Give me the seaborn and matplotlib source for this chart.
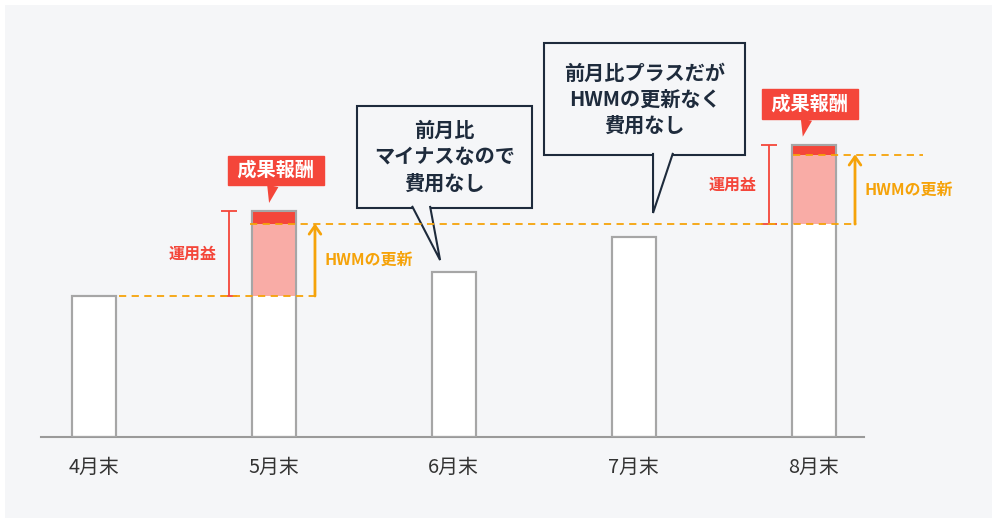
import numpy as np
import pandas as pd
import matplotlib.pyplot as plt
from matplotlib.patches import Rectangle, Polygon
import seaborn as sns

# データ（基準価額とHWM）
months = ['4月末', '5月末', '6月末', '7月末', '8月末']
nav = [100, 160, 117, 142, 207]
fee_idx = [1, 4]                 # 成果報酬が発生した月
hwm_before = [100, 151]          # 更新前のHWM
hwm_after = [151, 200]           # 更新後のHWM

BG = '#f5f6f8'
RED = '#f4463a'
PINK = '#f9aca6'
ORANGE = '#f5a30a'
NAVY = '#1e2b3c'
EDGE = '#a6a6a6'

sns.set_theme(style='white')
plt.rcParams['font.family'] = ['Noto Sans CJK JP', 'DejaVu Sans']

W, H = 997, 529
fig = plt.figure(figsize=(W / 100, H / 100), dpi=100)
fig.patch.set_facecolor('white')
fig.add_artist(Rectangle((5 / W, 11 / H), 987 / W, 513 / H, transform=fig.transFigure,
                         fc=BG, ec='none', zorder=0))
ax = fig.add_axes([41 / W, 92 / H, 823 / W, 432 / H])
ax.set_facecolor('none')

df = pd.DataFrame({'month': months, 'nav': nav})
bw = 0.244
sns.barplot(data=df, x='month', y='nav', color='white', saturation=1, width=bw,
            edgecolor=EDGE, linewidth=1.5, ax=ax, zorder=1)

# 運用益（ピンク）と成果報酬（赤）
for i, lo, hi in zip(fee_idx, hwm_before, hwm_after):
    ax.bar(i, hi - lo, bottom=lo, width=bw, color=PINK, lw=0, zorder=2)
    ax.bar(i, nav[i] - hi, bottom=hi, width=bw, color=RED, lw=0, zorder=2)
ax.bar(range(len(nav)), nav, width=bw, fill=False, edgecolor=EDGE, lw=1.5, zorder=3)

# HWMの破線
dash = dict(color=ORANGE, lw=1.3, ls=(0, (4, 3)), zorder=7)
ax.hlines(hwm_before[0], 0.14, 1.235, **dash)
ax.hlines(hwm_after[0], 0.87, 4.24, **dash)
ax.hlines(hwm_after[1], 3.886, 4.606, clip_on=False, **dash)

# 運用益の範囲とHWM更新の矢印
for i, lo, hi in zip(fee_idx, hwm_before, hwm_after):
    xr = i - 0.25
    ax.errorbar(xr, (lo + nav[i]) / 2, yerr=(nav[i] - lo) / 2, color=RED, lw=1.3,
                capsize=6, capthick=1.3, zorder=6)
    ax.text(xr - 0.2, (lo + nav[i]) / 2, '運用益', color=RED, fontsize=11.5,
            fontweight='bold', ha='center', va='center')
    xa = i + 0.23
    ax.annotate('', xy=(xa, hi + 0.5), xytext=(xa, lo),
                arrowprops=dict(arrowstyle='->,head_length=0.5,head_width=0.35',
                                color=ORANGE, lw=2, shrinkA=0, shrinkB=0), zorder=6)
    ax.text(xa + 0.055, (lo + hi) / 2, 'HWMの更新', color=ORANGE, fontsize=11.5,
            fontweight='bold', ha='left', va='center', clip_on=False)

# 成果報酬ラベル
for i, dx, dy in zip(fee_idx, [0.014, -0.022], [21, 21]):
    ax.annotate(' 成果報酬 ', xy=(i - 0.025 - (0.035 if i == 4 else 0), nav[i] + 6),
                xytext=(i + dx, nav[i] + dy + 8),
                ha='center', va='center', color='white', fontsize=13.8, fontweight='bold',
                bbox=dict(boxstyle='square,pad=0.28', fc=RED, ec=RED),
                arrowprops=dict(arrowstyle='wedge,tail_width=0.6', fc=RED, ec='none',
                                shrinkA=0, shrinkB=0), zorder=8)


# 吹き出し
def callout(x0, x1, y0, y1, tail, text):
    ax.add_patch(Rectangle((x0, y0), x1 - x0, y1 - y0, fc=BG, ec=NAVY, lw=1.5, zorder=6))
    tx0, tx1, tip = tail
    ax.add_patch(Polygon([(tx0, y0 + 1.5), tip, (tx1, y0 + 1.5)], closed=False,
                         fc=BG, ec=NAVY, lw=1.5, zorder=6.5))
    ax.text((x0 + x1) / 2, (y0 + y1) / 2, text, ha='center', va='center', color=NAVY,
            fontsize=14.5, fontweight='bold', linespacing=1.3, zorder=8)


callout(1.464, 2.436, 162.4, 234.8, (1.769, 1.869, (1.925, 125.5)),
        '前月比\nマイナスなので\n費用なし')
callout(2.503, 3.619, 200.0, 279.4, (3.108, 3.219, (3.108, 158.9)),
        '前月比プラスだが\nHWMの更新なく\n費用なし')

ax.set_xlim(-0.292, 4.28)
ax.set_ylim(0, 306.4)
ax.set_xlabel('')
ax.set_ylabel('')
ax.set_yticks([])
for s in ['top', 'left', 'right']:
    ax.spines[s].set_visible(False)
ax.spines['bottom'].set_color('#9a9a9a')
ax.spines['bottom'].set_linewidth(1.5)
ax.tick_params(axis='x', length=0, pad=14, labelsize=14.3, colors='#333333')

fig.savefig('out.png', dpi=100, facecolor='white')
